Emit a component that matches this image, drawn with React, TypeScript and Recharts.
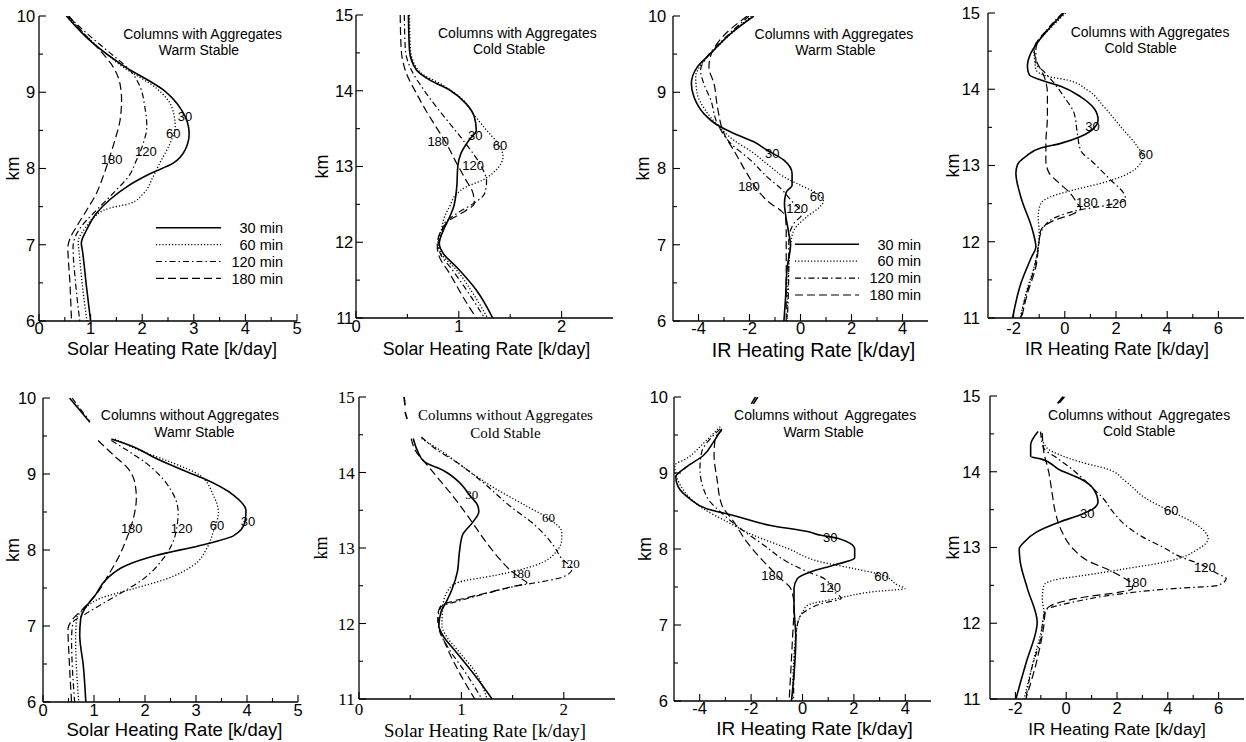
import React from 'react';
import { LineChart, Line, XAxis, YAxis, ReferenceDot, Legend } from 'recharts';

type Pair = [number, number];

// ---------- tick values ----------
const SOLAR_WARM_X_MAJOR = [0, 1, 2, 3, 4, 5];
const SOLAR_WARM_X_MINOR = [0.5, 1.5, 2.5, 3.5, 4.5];
const SOLAR_COLD_X_MAJOR = [0, 1, 2];
const SOLAR_COLD_X_MINOR = [0.5, 1.5];
const IR_WARM_X_MAJOR = [-4, -2, 0, 2, 4];
const IR_WARM_X_MINOR = [-3, -1, 1, 3];
const IR_COLD_X_MAJOR = [-2, 0, 2, 4, 6];
const IR_COLD_X_MINOR = [-1, 1, 3, 5];
const WARM_KM_MAJOR = [6, 7, 8, 9, 10];
const WARM_KM_MINOR = [6.5, 7.5, 8.5, 9.5];
const COLD_KM_MAJOR = [11, 12, 13, 14, 15];
const COLD_KM_MINOR = [11.5, 12.5, 13.5, 14.5];

// ---------- texts ----------
const SERIES_NAMES = ['30 min', '60 min', '120 min', '180 min'];
const TAG_TEXT = ['30', '60', '120', '180'];
const SOLAR_LABEL = 'Solar Heating Rate [k/day]';
const IR_LABEL = 'IR Heating Rate [k/day]';
const Y_LABEL = 'km';
const P1_TITLE = ['Columns with Aggregates', 'Warm Stable'];
const P2_TITLE = ['Columns with Aggregates', 'Cold Stable'];
const P3_TITLE = ['Columns with Aggregates', 'Warm Stable'];
const P4_TITLE = ['Columns with Aggregates', 'Cold Stable'];
const P5_TITLE = ['Columns without Aggregates', 'Wamr Stable'];
const P6_TITLE = ['Columns without Aggregates', 'Cold Stable'];
const P7_TITLE = ['Columns without\u00A0 Aggregates', 'Warm Stable'];
const P8_TITLE = ['Columns without\u00A0 Aggregates', 'Cold Stable'];

// ---------- data: [km, heating rate] ----------
// Panel 1: solar, columns with aggregates, warm stable
const P1_30: Pair[] = [[10.0,0.53],[9.64,1.05],[9.35,1.63],[9.03,2.41],[8.76,2.77],[8.46,2.91],[8.24,2.83],[8.07,2.60],[7.93,2.15],[7.76,1.70],[7.59,1.37],[7.41,1.11],[7.19,0.92],[7.02,0.82],[6.93,0.84],[6.45,0.92],[6.0,1.0]];
const P1_60: Pair[] = [[9.98,0.58],[9.64,1.07],[9.33,1.63],[9.05,2.28],[8.81,2.57],[8.55,2.64],[8.33,2.54],[8.07,2.34],[7.89,2.21],[7.67,2.02],[7.54,1.76],[7.48,1.37],[7.37,1.08],[7.24,0.92],[7.04,0.76],[6.89,0.78],[6.41,0.85],[6.0,0.93]];
const P1_120: Pair[] = [[10.0,0.56],[9.70,1.05],[9.48,1.44],[9.29,1.76],[9.07,1.96],[8.81,2.05],[8.55,2.09],[8.33,2.02],[8.11,1.89],[7.89,1.73],[7.72,1.50],[7.54,1.24],[7.41,1.05],[7.24,0.82],[7.08,0.69],[6.97,0.66],[6.49,0.71],[6.0,0.79]];
const P1_180: Pair[] = [[10.0,0.58],[9.75,0.90],[9.55,1.18],[9.33,1.44],[9.11,1.57],[8.90,1.60],[8.63,1.57],[8.37,1.47],[8.15,1.37],[7.89,1.24],[7.67,1.11],[7.45,0.92],[7.24,0.73],[7.08,0.60],[6.97,0.56],[6.49,0.60],[6.0,0.63]];
const P1_TAGS: [number, number][] = [[2.83,8.68],[2.60,8.46],[2.07,8.22],[1.41,8.12]];
const P1_TITLE_POS: [number, number][] = [[3.17,9.77],[3.10,9.555]];

// Panel 2: solar, columns with aggregates, cold stable
const P2_30: Pair[] = [[15.0,0.51],[14.54,0.52],[14.27,0.59],[14.14,0.72],[14.01,0.91],[13.83,1.07],[13.66,1.15],[13.48,1.17],[13.35,1.10],[13.17,1.02],[13.0,0.99],[12.73,0.98],[12.47,0.95],[12.33,0.91],[12.16,0.85],[11.98,0.81],[11.85,0.85],[11.67,0.98],[11.37,1.17],[11.0,1.33]];
const P2_60: Pair[] = [[15.0,0.52],[14.54,0.53],[14.25,0.62],[14.07,0.85],[13.88,1.04],[13.66,1.16],[13.48,1.27],[13.26,1.40],[13.13,1.43],[12.95,1.36],[12.82,1.23],[12.73,1.07],[12.64,0.98],[12.47,0.91],[12.33,0.86],[12.16,0.83],[12.0,0.80],[11.85,0.83],[11.63,0.98],[11.32,1.14],[11.0,1.28]];
const P2_120: Pair[] = [[15.0,0.47],[14.54,0.48],[14.27,0.54],[14.05,0.64],[13.79,0.78],[13.57,0.91],[13.35,1.04],[13.17,1.14],[13.0,1.22],[12.80,1.27],[12.64,1.25],[12.51,1.14],[12.38,0.98],[12.25,0.86],[12.11,0.83],[11.99,0.80],[11.85,0.82],[11.63,0.94],[11.32,1.10],[11.0,1.25]];
const P2_180: Pair[] = [[15.0,0.43],[14.54,0.44],[14.23,0.49],[13.96,0.59],[13.74,0.68],[13.52,0.78],[13.30,0.88],[13.04,0.98],[12.82,1.07],[12.64,1.14],[12.51,1.15],[12.42,1.07],[12.29,0.91],[12.16,0.83],[11.96,0.79],[11.81,0.81],[11.59,0.91],[11.28,1.04],[11.0,1.17]];
const P2_TAGS: [number, number][] = [[1.16,13.41],[1.40,13.28],[1.14,13.02],[0.80,13.33]];
const P2_TITLE_POS: [number, number][] = [[1.57,14.76],[1.49,14.545]];

// Panel 3: IR, columns with aggregates, warm stable
const P3_30: Pair[] = [[10.0,-1.83],[9.77,-2.74],[9.51,-3.52],[9.33,-4.05],[9.11,-4.28],[8.94,-4.18],[8.72,-3.79],[8.57,-3.26],[8.46,-2.61],[8.35,-1.83],[8.24,-1.31],[8.11,-0.65],[7.93,-0.33],[7.78,-0.33],[7.69,-0.56],[7.54,-0.63],[7.41,-0.59],[7.15,-0.46],[7.0,-0.39],[6.71,-0.52],[6.28,-0.59],[6.0,-0.65]];
const P3_60: Pair[] = [[10.0,-1.92],[9.72,-2.87],[9.46,-3.66],[9.20,-4.11],[8.98,-4.05],[8.76,-3.72],[8.57,-3.26],[8.37,-2.61],[8.20,-1.83],[8.02,-1.17],[7.89,-0.65],[7.78,0.0],[7.67,0.65],[7.57,0.90],[7.48,0.70],[7.37,0.26],[7.19,-0.26],[7.0,-0.39],[6.71,-0.46],[6.0,-0.52]];
const P3_120: Pair[] = [[10.0,-2.02],[9.70,-3.0],[9.44,-3.72],[9.29,-3.92],[9.11,-3.79],[8.90,-3.52],[8.59,-3.26],[8.33,-2.74],[8.11,-1.96],[7.89,-1.31],[7.74,-0.78],[7.59,-0.39],[7.40,0.05],[7.28,-0.26],[7.06,-0.46],[6.71,-0.46],[6.0,-0.52]];
const P3_180: Pair[] = [[10.0,-2.09],[9.70,-3.13],[9.48,-3.52],[9.33,-3.59],[9.11,-3.39],[8.81,-3.26],[8.46,-3.0],[8.20,-2.55],[7.93,-2.09],[7.67,-1.57],[7.54,-1.17],[7.45,-0.78],[7.37,-0.59],[7.15,-0.56],[6.71,-0.56],[6.0,-0.56]];
const P3_TAGS: [number, number][] = [[-1.11,8.20],[0.65,7.63],[-0.13,7.48],[-2.02,7.76]];
const P3_TITLE_POS: [number, number][] = [[1.31,9.77],[1.37,9.555]];

// Panel 4: IR, columns with aggregates, cold stable
const P4_30: Pair[] = [[15.0,-0.03],[14.82,-0.55],[14.61,-1.07],[14.47,-1.33],[14.30,-1.46],[14.19,-1.39],[14.12,-0.94],[14.04,-0.16],[13.90,0.62],[13.75,1.14],[13.60,1.30],[13.49,1.14],[13.38,0.62],[13.29,-0.16],[13.23,-0.94],[13.12,-1.52],[13.01,-1.85],[12.90,-1.91],[12.59,-1.72],[12.15,-1.26],[11.93,-1.13],[11.80,-1.30],[11.45,-1.72],[11.0,-2.04]];
const P4_60: Pair[] = [[15.0,0.04],[14.82,-0.50],[14.52,-1.20],[14.26,-1.13],[14.17,-0.68],[14.12,0.10],[13.99,0.88],[13.77,1.53],[13.51,2.18],[13.25,2.83],[13.12,3.05],[12.94,2.70],[12.79,1.66],[12.68,0.36],[12.59,-0.55],[12.50,-0.94],[12.33,-1.04],[12.11,-1.0],[11.93,-1.04],[11.67,-1.20],[11.32,-1.52],[11.0,-1.74]];
const P4_120: Pair[] = [[15.0,-0.08],[14.82,-0.60],[14.52,-1.13],[14.34,-1.13],[14.23,-0.81],[14.08,-0.42],[13.90,-0.03],[13.69,0.36],[13.42,0.49],[13.20,0.62],[13.03,1.14],[12.81,1.79],[12.63,2.31],[12.55,2.38],[12.48,1.66],[12.42,0.62],[12.33,-0.29],[12.20,-0.81],[12.11,-0.94],[11.93,-1.04],[11.67,-1.18],[11.32,-1.50],[11.0,-1.72]];
const P4_180: Pair[] = [[15.0,-0.06],[14.82,-0.58],[14.52,-1.20],[14.39,-1.13],[14.17,-0.81],[13.95,-0.68],[13.64,-0.68],[13.29,-0.74],[13.07,-0.74],[12.90,-0.61],[12.77,-0.22],[12.63,0.23],[12.50,0.49],[12.44,0.62],[12.37,0.36],[12.28,-0.42],[12.15,-0.94],[12.02,-1.0],[11.67,-1.13],[11.32,-1.46],[11.0,-1.69]];
const P4_TAGS: [number, number][] = [[1.08,13.51],[3.16,13.14],[1.99,12.50],[0.86,12.52]];
const P4_TITLE_POS: [number, number][] = [[3.33,14.75],[2.96,14.535]];

// Panel 5: solar, columns without aggregates, warm stable
const P5_30: Pair[] = [[9.46,1.34],[9.36,1.77],[9.20,2.23],[9.03,2.82],[8.94,3.15],[8.72,3.74],[8.52,3.98],[8.37,3.96],[8.19,3.74],[8.06,3.08],[7.93,2.23],[7.80,1.64],[7.62,1.25],[7.40,1.02],[7.23,0.82],[7.10,0.74],[6.88,0.72],[6.48,0.79],[6.0,0.84]];
const P5_60: Pair[] = [[9.46,1.41],[9.31,1.90],[9.16,2.49],[8.98,3.08],[8.72,3.34],[8.50,3.44],[8.24,3.34],[8.02,3.21],[7.80,2.95],[7.62,2.42],[7.49,1.77],[7.36,1.11],[7.23,0.82],[7.10,0.66],[6.83,0.64],[6.0,0.70]];
const P5_120: Pair[] = [[9.44,1.34],[9.29,1.70],[9.14,2.03],[8.98,2.29],[8.81,2.49],[8.50,2.65],[8.19,2.59],[7.89,2.36],[7.62,1.97],[7.45,1.57],[7.27,1.11],[7.14,0.79],[7.05,0.59],[6.83,0.56],[6.0,0.62]];
const P5_180: Pair[] = [[9.44,1.08],[9.25,1.38],[9.07,1.67],[8.89,1.80],[8.68,1.83],[8.41,1.77],[8.15,1.64],[7.89,1.47],[7.67,1.28],[7.45,1.08],[7.23,0.79],[7.07,0.56],[6.96,0.49],[6.61,0.51],[6.0,0.56]];
const P5_TOP_30: Pair[] = [[10.0,0.52],[9.68,0.92]];
const P5_TOP_120: Pair[] = [[10.0,0.57],[9.70,0.91]];
const P5_TAGS: [number, number][] = [[4.02,8.37],[3.41,8.32],[2.72,8.29],[1.74,8.29]];
const P5_TITLE_POS: [number, number][] = [[2.88,9.77],[2.97,9.555]];

// Panel 6: solar, columns without aggregates, cold stable
const P6_30: Pair[] = [[14.45,0.53],[14.29,0.57],[14.14,0.64],[14.03,0.82],[13.87,0.98],[13.70,1.08],[13.56,1.16],[13.48,1.17],[13.34,1.11],[13.17,1.01],[12.94,0.98],[12.68,0.96],[12.46,0.91],[12.28,0.85],[12.15,0.80],[11.97,0.78],[11.84,0.82],[11.62,0.95],[11.35,1.11],[11.0,1.30]];
const P6_60: Pair[] = [[14.45,0.61],[14.27,0.82],[14.05,1.04],[13.78,1.34],[13.56,1.63],[13.39,1.85],[13.21,1.98],[13.12,1.98],[12.94,1.92],[12.77,1.72],[12.64,1.34],[12.55,0.98],[12.46,0.88],[12.24,0.82],[11.97,0.81],[11.84,0.85],[11.62,0.98],[11.35,1.14],[11.0,1.25]];
const P6_120: Pair[] = [[14.47,0.61],[14.31,0.75],[14.14,0.95],[13.87,1.21],[13.56,1.47],[13.30,1.72],[13.03,1.90],[12.86,1.98],[12.72,2.08],[12.62,2.0],[12.57,1.85],[12.50,1.55],[12.40,1.25],[12.30,0.98],[12.22,0.80],[12.06,0.77],[11.93,0.78],[11.66,0.88],[11.35,1.04],[11.0,1.20]];
const P6_180: Pair[] = [[14.45,0.51],[14.27,0.56],[14.14,0.64],[13.96,0.75],[13.70,0.91],[13.39,1.08],[13.08,1.24],[12.86,1.37],[12.68,1.50],[12.59,1.59],[12.54,1.64],[12.48,1.47],[12.37,1.14],[12.28,0.88],[12.24,0.80],[12.10,0.77],[11.97,0.78],[11.71,0.85],[11.35,0.98],[11.0,1.13]];
const P6_TOP_30: Pair[] = [[14.80,0.45],[14.71,0.47]];
const P6_TOP_60: Pair[] = [[15.0,0.44],[14.89,0.45]];
const P6_TAGS: [number, number][] = [[1.10,13.71],[1.85,13.41],[2.06,12.80],[1.58,12.66]];
const P6_TITLE_POS: [number, number][] = [[1.43,14.76],[1.43,14.525]];

// Panel 7: IR, columns without aggregates, warm stable
const P7_30: Pair[] = [[9.58,-3.14],[9.41,-3.46],[9.23,-3.86],[9.08,-4.51],[8.95,-4.93],[8.82,-4.84],[8.66,-4.38],[8.53,-3.73],[8.44,-2.68],[8.31,-1.24],[8.23,0.20],[8.18,0.72],[8.14,1.37],[8.0,2.03],[7.88,2.03],[7.79,1.24],[7.70,0.33],[7.61,-0.20],[7.48,-0.33],[7.26,-0.33],[6.82,-0.26],[6.0,-0.43]];
const P7_60: Pair[] = [[9.61,-3.20],[9.39,-3.86],[9.19,-4.51],[9.10,-4.97],[8.75,-4.58],[8.53,-3.86],[8.36,-2.94],[8.18,-1.90],[8.01,-0.59],[7.83,0.72],[7.74,2.03],[7.66,3.07],[7.52,3.73],[7.48,3.99],[7.44,2.81],[7.35,1.37],[7.26,0.20],[7.17,0.0],[7.0,-0.20],[6.60,-0.33],[6.0,-0.39]];
const P7_120: Pair[] = [[9.58,-3.20],[9.45,-3.59],[9.28,-3.92],[9.06,-3.99],[8.80,-3.86],[8.62,-3.59],[8.49,-3.20],[8.27,-2.42],[8.05,-1.50],[7.83,-0.59],[7.70,0.20],[7.61,0.85],[7.44,1.24],[7.35,1.50],[7.28,0.72],[7.20,0.20],[7.13,-0.07],[7.0,-0.20],[6.60,-0.30],[6.0,-0.35]];
const P7_180: Pair[] = [[9.56,-3.14],[9.45,-3.40],[9.23,-3.44],[8.93,-3.33],[8.58,-3.14],[8.36,-2.68],[8.09,-2.16],[7.83,-1.50],[7.61,-0.85],[7.48,-0.46],[7.26,-0.33],[6.82,-0.39],[6.0,-0.52]];
const P7_TOP_30: Pair[] = [[10.0,-1.83],[9.91,-1.99]];
const P7_TOP_60: Pair[] = [[10.0,-1.74],[9.91,-1.91]];
const P7_TAGS: [number, number][] = [[1.08,8.15],[3.07,7.64],[1.08,7.50],[-1.18,7.65]];
const P7_TITLE_POS: [number, number][] = [[0.88,9.76],[0.82,9.545]];

// Panel 8: IR, columns without aggregates, cold stable
const P8_30: Pair[] = [[14.53,-1.11],[14.35,-1.40],[14.20,-1.40],[14.17,-1.01],[14.02,-0.23],[13.91,0.54],[13.78,1.06],[13.60,1.25],[13.51,1.06],[13.43,0.54],[13.34,-0.23],[13.21,-1.14],[13.07,-1.66],[12.98,-1.85],[12.81,-1.81],[12.46,-1.53],[12.01,-1.14],[11.88,-1.20],[11.53,-1.53],[11.0,-1.98]];
const P8_60: Pair[] = [[14.51,-1.01],[14.31,-0.75],[14.22,-0.23],[14.13,0.54],[14.04,1.58],[13.87,2.35],[13.65,3.13],[13.51,3.91],[13.34,4.94],[13.21,5.46],[13.12,5.59],[12.98,5.20],[12.81,3.91],[12.72,2.35],[12.63,0.67],[12.57,-0.49],[12.50,-0.88],[12.32,-0.94],[12.15,-0.88],[11.97,-0.94],[11.53,-1.27],[11.0,-1.66]];
const P8_120: Pair[] = [[14.53,-1.01],[14.31,-0.88],[14.18,-0.36],[14.02,0.28],[13.82,0.93],[13.65,1.45],[13.47,1.84],[13.29,2.35],[13.14,3.0],[13.01,3.78],[12.87,4.55],[12.79,5.20],[12.65,5.98],[12.59,6.30],[12.50,5.98],[12.45,3.91],[12.38,1.97],[12.28,0.28],[12.23,-0.36],[12.19,-0.75],[12.10,-0.88],[11.79,-1.01],[11.44,-1.33],[11.0,-1.59]];
const P8_180: Pair[] = [[14.51,-0.94],[14.26,-0.88],[14.0,-0.69],[13.73,-0.56],[13.47,-0.43],[13.21,-0.17],[12.98,0.28],[12.81,0.93],[12.72,1.58],[12.63,2.10],[12.50,2.61],[12.46,2.61],[12.41,2.10],[12.35,0.80],[12.30,0.03],[12.23,-0.62],[12.15,-0.82],[11.97,-0.88],[11.53,-1.14],[11.0,-1.59]];
const P8_TOP_30: Pair[] = [[14.99,-0.13],[14.90,-0.34]];
const P8_TOP_60: Pair[] = [[14.99,-0.07],[14.91,-0.27]];
const P8_TAGS: [number, number][] = [[0.83,13.45],[4.14,13.49],[5.46,12.74],[2.74,12.54]];
const P8_TITLE_POS: [number, number][] = [[2.87,14.75],[2.87,14.535]];

// ---------- styles ----------
const SANS = '"Liberation Sans", Arial, Helvetica, sans-serif';
const SERIF = '"Liberation Serif", "Times New Roman", serif';
const STYLES = [
  { dash: undefined as string | undefined, width: 1.6 },
  { dash: '1.2 2', width: 1.3 },
  { dash: '6 3 1.5 3', width: 1.2 },
  { dash: '8 4', width: 1.2 },
];

const YW = 50;
const MT = 12;
const MR = 10;
const XH = 44;

type LegendCfg = { left: number; top: number; w: number; h: number; lineLen: number; y0: number; dy: number };
type Frag = { s: number; d: Pair[] };

type PanelCfg = {
  left: number; top: number; w: number; h: number;
  xDomain: [number, number]; yDomain: [number, number];
  xMajor: number[]; xMinor: number[]; yMajor: number[]; yMinor: number[];
  series: Pair[][]; frags?: Frag[]; tags: [number, number][];
  title: string[]; titlePos: [number, number][];
  xLabel: string; xlSize: number; xlDx: number; xlDy: number; kmOff: number;
  tickDy: number; yGap: number;
  serif?: boolean; legend?: LegendCfg;
};

const PANELS: PanelCfg[] = [
  { left: 39, top: 16, w: 258, h: 305, xDomain: [0, 5], yDomain: [6, 10], xMajor: SOLAR_WARM_X_MAJOR, xMinor: SOLAR_WARM_X_MINOR, yMajor: WARM_KM_MAJOR, yMinor: WARM_KM_MINOR, series: [P1_30, P1_60, P1_120, P1_180], tags: P1_TAGS, title: P1_TITLE, titlePos: P1_TITLE_POS, xLabel: SOLAR_LABEL, xlSize: 18, xlDx: 4, xlDy: 33.5, kmOff: 20, tickDy: 12.5, yGap: 3.8,
    legend: { left: 167, top: 216, w: 128, h: 68, lineLen: 65, y0: 7.7, dy: 16.9 } },
  { left: 356, top: 15, w: 257, h: 303, xDomain: [0, 2.5], yDomain: [11, 15], xMajor: SOLAR_COLD_X_MAJOR, xMinor: SOLAR_COLD_X_MINOR, yMajor: COLD_KM_MAJOR, yMinor: COLD_KM_MINOR, series: [P2_30, P2_60, P2_120, P2_180], tags: P2_TAGS, title: P2_TITLE, titlePos: P2_TITLE_POS, xLabel: SOLAR_LABEL, xlSize: 17.8, xlDx: 2, xlDy: 37, kmOff: 28, tickDy: 14, yGap: 2.7 },
  { left: 673, top: 16, w: 255, h: 305, xDomain: [-5, 5], yDomain: [6, 10], xMajor: IR_WARM_X_MAJOR, xMinor: IR_WARM_X_MINOR, yMajor: WARM_KM_MAJOR, yMinor: WARM_KM_MINOR, series: [P3_30, P3_60, P3_120, P3_180], tags: P3_TAGS, title: P3_TITLE, titlePos: P3_TITLE_POS, xLabel: IR_LABEL, xlSize: 19.7, xlDx: 13, xlDy: 36, kmOff: 24, tickDy: 12.5, yGap: 6.7,
    legend: { left: 172, top: 232, w: 127, h: 68, lineLen: 64, y0: 8.3, dy: 16.9 } },
  { left: 988, top: 13, w: 256, h: 305, xDomain: [-3, 7], yDomain: [11, 15], xMajor: IR_COLD_X_MAJOR, xMinor: IR_COLD_X_MINOR, yMajor: COLD_KM_MAJOR, yMinor: COLD_KM_MINOR, series: [P4_30, P4_60, P4_120, P4_180], tags: P4_TAGS, title: P4_TITLE, titlePos: P4_TITLE_POS, xLabel: IR_LABEL, xlSize: 17.8, xlDx: 1, xlDy: 36.5, kmOff: 29, tickDy: 16, yGap: 8 },
  { left: 43, top: 398, w: 255, h: 304, xDomain: [0, 5], yDomain: [6, 10], xMajor: SOLAR_WARM_X_MAJOR, xMinor: SOLAR_WARM_X_MINOR, yMajor: WARM_KM_MAJOR, yMinor: WARM_KM_MINOR, series: [P5_30, P5_60, P5_120, P5_180], frags: [{ s: 0, d: P5_TOP_30 }, { s: 2, d: P5_TOP_120 }], tags: P5_TAGS, title: P5_TITLE, titlePos: P5_TITLE_POS, xLabel: SOLAR_LABEL, xlSize: 18.5, xlDx: 4, xlDy: 34.2, kmOff: 24, tickDy: 13.5, yGap: 6.7 },
  { left: 359, top: 397, w: 256, h: 302, xDomain: [0, 2.5], yDomain: [11, 15], xMajor: SOLAR_COLD_X_MAJOR, xMinor: SOLAR_COLD_X_MINOR, yMajor: COLD_KM_MAJOR, yMinor: COLD_KM_MINOR, series: [P6_30, P6_60, P6_120, P6_180], frags: [{ s: 0, d: P6_TOP_30 }, { s: 1, d: P6_TOP_60 }, { s: 0, d: P6_TOP_60 }], tags: P6_TAGS, title: P6_TITLE, titlePos: P6_TITLE_POS, xLabel: SOLAR_LABEL, xlSize: 18.8, xlDx: -2, xlDy: 37.5, kmOff: 32, tickDy: 16, yGap: 4.3, serif: true },
  { left: 674, top: 397, w: 257, h: 304, xDomain: [-5, 5], yDomain: [6, 10], xMajor: IR_WARM_X_MAJOR, xMinor: IR_WARM_X_MINOR, yMajor: WARM_KM_MAJOR, yMinor: WARM_KM_MINOR, series: [P7_30, P7_60, P7_120, P7_180], frags: [{ s: 0, d: P7_TOP_30 }, { s: 0, d: P7_TOP_60 }], tags: P7_TAGS, title: P7_TITLE, titlePos: P7_TITLE_POS, xLabel: IR_LABEL, xlSize: 19, xlDx: 12, xlDy: 34, kmOff: 23, tickDy: 12.5, yGap: 6 },
  { left: 990, top: 396, w: 254, h: 303, xDomain: [-3, 7], yDomain: [11, 15], xMajor: IR_COLD_X_MAJOR, xMinor: IR_COLD_X_MINOR, yMajor: COLD_KM_MAJOR, yMinor: COLD_KM_MINOR, series: [P8_30, P8_60, P8_120, P8_180], frags: [{ s: 0, d: P8_TOP_30 }, { s: 0, d: P8_TOP_60 }], tags: P8_TAGS, title: P8_TITLE, titlePos: P8_TITLE_POS, xLabel: IR_LABEL, xlSize: 17.2, xlDx: 0, xlDy: 35.5, kmOff: 31, tickDy: 15, yGap: 9.5 },
];

const toPts = (a: Pair[]) => a.map(([km, v]) => ({ km, v }));

const makeXTick = (majors: number[], fs: number, dy: number) => (props: any) => {
  const { x, y, payload } = props;
  const v = payload && payload.value;
  const major = majors.indexOf(v) >= 0;
  return (
    <g>
      <line x1={x} x2={x} y1={y} y2={y - (major ? 7 : 4)} stroke="#000" strokeWidth={1.1} />
      {major ? (
        <text x={x} y={y + dy} textAnchor="middle" fontSize={fs} fill="#000">{String(v)}</text>
      ) : null}
    </g>
  );
};

const makeYTick = (majors: number[], fs: number, gap: number) => (props: any) => {
  const { x, y, payload } = props;
  const v = payload && payload.value;
  const major = majors.indexOf(v) >= 0;
  return (
    <g>
      <line x1={x} x2={x + (major ? 7 : 4)} y1={y} y2={y} stroke="#000" strokeWidth={1.1} />
      {major ? (
        <text x={x - gap} y={y} dy="0.36em" textAnchor="end" fontSize={fs} fill="#000">{String(v)}</text>
      ) : null}
    </g>
  );
};

function Panel({ p }: { p: PanelCfg }) {
  const width = YW + p.w + MR;
  const height = MT + p.h + XH;
  const fam = p.serif ? SERIF : SANS;
  const tickFs = p.serif ? 17 : 16.5;
  const xTicks = [...p.xMajor, ...p.xMinor].sort((a, b) => a - b);
  const yTicks = [...p.yMajor, ...p.yMinor].sort((a, b) => a - b);
  const titleFs = p.serif ? 15 : 14;
  const lg = p.legend;
  const xLabelEl = () => (
    <text x={YW + p.w / 2 + p.xlDx} y={MT + p.h + p.xlDy} textAnchor="middle" fontSize={p.xlSize} fill="#000">{p.xLabel}</text>
  );
  const yLabelEl = () => {
    const x = YW - p.kmOff;
    const y = MT + p.h / 2;
    return (
      <text x={x} y={y} transform={`rotate(-90 ${x} ${y})`} textAnchor="middle" fontSize={18} fill="#000">{Y_LABEL}</text>
    );
  };
  return (
    <div style={{ position: 'absolute', left: p.left - YW, top: p.top - MT, fontFamily: fam }}>
      <LineChart width={width} height={height} layout="vertical" margin={{ top: MT, right: MR, bottom: 0, left: 0 }}>
        <XAxis type="number" domain={p.xDomain} allowDataOverflow ticks={xTicks} interval={0} tickSize={0} tickMargin={0} tickLine={false}
          axisLine={{ stroke: '#000', strokeWidth: 1.3 }} tick={makeXTick(p.xMajor, tickFs, p.tickDy)} height={XH} label={xLabelEl} />
        <XAxis xAxisId="top" orientation="top" type="number" domain={p.xDomain} height={0} tick={false} tickLine={false}
          axisLine={{ stroke: '#000', strokeWidth: 1.3 }} />
        <YAxis type="number" dataKey="km" domain={p.yDomain} reversed allowDataOverflow ticks={yTicks} interval={0} tickSize={0} tickMargin={0} tickLine={false}
          axisLine={{ stroke: '#000', strokeWidth: 1.3 }} tick={makeYTick(p.yMajor, tickFs, p.yGap)} width={YW} label={yLabelEl} />
        <YAxis yAxisId="right" orientation="right" type="number" domain={p.yDomain} reversed width={0} tick={false} tickLine={false}
          axisLine={{ stroke: '#000', strokeWidth: 1.3 }} />
        {p.series.map((s, i) => (
          <Line key={SERIES_NAMES[i]} name={SERIES_NAMES[i]} data={toPts(s)} dataKey="v" type="monotone" stroke="#000"
            strokeWidth={STYLES[i].width} strokeDasharray={STYLES[i].dash} dot={false} activeDot={false}
            isAnimationActive={false} />
        ))}
        {(p.frags || []).map((f, i) => (
          <Line key={'frag' + i} data={toPts(f.d)} dataKey="v" type="linear" stroke="#000" legendType="none"
            strokeWidth={STYLES[f.s].width} strokeDasharray={STYLES[f.s].dash} dot={false} activeDot={false}
            isAnimationActive={false} />
        ))}
        {p.tags.map(([tx, ty], i) => (
          <ReferenceDot key={'tag' + i} x={tx} y={ty} r={0} fill="none" stroke="none" ifOverflow="visible"
            label={{ value: TAG_TEXT[i], position: 'center', fontSize: 13, fill: '#000' }} />
        ))}
        {p.titlePos.map(([tx, ty], i) => (
          <ReferenceDot key={'title' + i} x={tx} y={ty} r={0} fill="none" stroke="none" ifOverflow="visible"
            label={{ value: p.title[i], position: 'center', fontSize: titleFs, fill: '#000' }} />
        ))}
        {lg ? (
          <Legend layout="vertical" align="center" verticalAlign="middle"
            wrapperStyle={{ left: lg.left, top: lg.top, width: lg.w, height: lg.h, margin: 0, padding: 0 }}
            content={() => (
              <svg width={lg.w} height={lg.h} style={{ display: 'block' }}>
                {SERIES_NAMES.map((n, i) => {
                  const y = lg.y0 + i * lg.dy;
                  return (
                    <g key={n}>
                      <line x1={0} x2={lg.lineLen} y1={y} y2={y} stroke="#000" strokeWidth={STYLES[i].width} strokeDasharray={STYLES[i].dash} />
                      <text x={lg.w - 1} y={y} dy="0.36em" textAnchor="end" fontSize={14.5} fill="#000" fontFamily={SANS}>{n}</text>
                    </g>
                  );
                })}
              </svg>
            )} />
        ) : null}
      </LineChart>
    </div>
  );
}

export default function App() {
  return (
    <div style={{ position: 'absolute', left: 0, top: 0, width: 1246, height: 742, overflow: 'hidden', background: '#fff' }}>
      {PANELS.map((p, i) => (
        <Panel key={i} p={p} />
      ))}
    </div>
  );
}
